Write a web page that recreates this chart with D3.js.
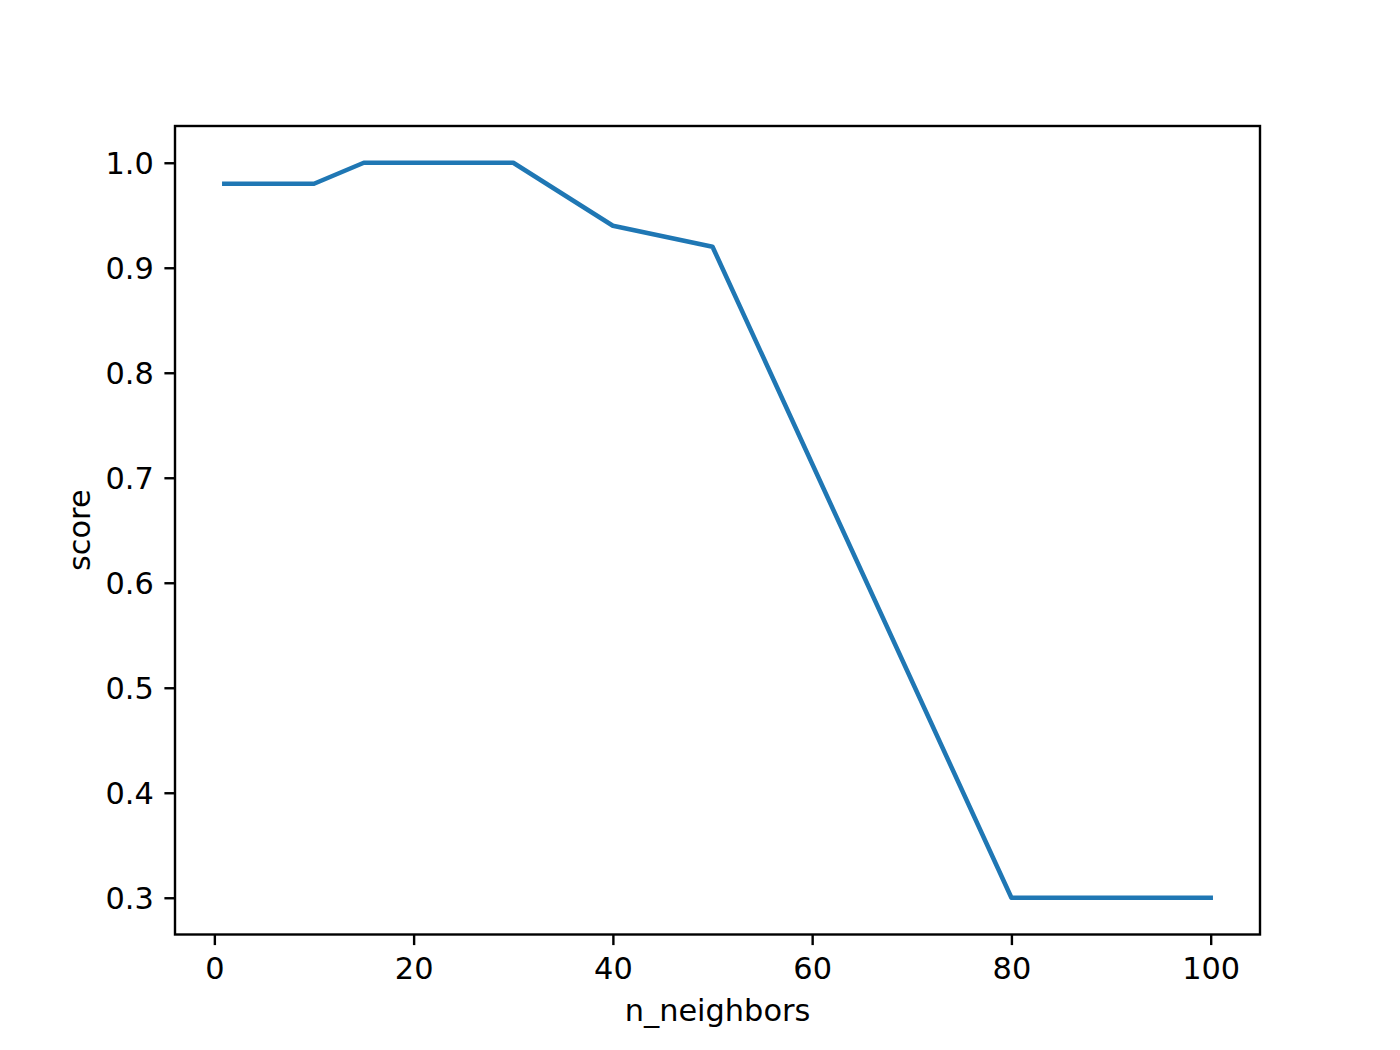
<!DOCTYPE html>
<html><head><meta charset="utf-8">
<script src="https://cdn.jsdelivr.net/npm/d3@7"></script>
<style>body{margin:0;background:#fff}svg text{font-family:"DejaVu Sans";fill:#000}</style>
</head><body>
<svg id="c" width="1400" height="1050"></svg>
<script>
const nNeighbors = [1, 10, 15, 30, 40, 50, 80, 100];
const scores = [0.98, 0.98, 1.0, 1.0, 0.94, 0.92, 0.30, 0.30];
const xTicks = [0, 20, 40, 60, 80, 100];
const yTicks = [0.3, 0.4, 0.5, 0.6, 0.7, 0.8, 0.9, 1.0];
const xLabel = "n_neighbors", yLabel = "score";

const L = 175, R = 1260, T = 126, B = 934.5;
const fs = 30.4, tickLen = 10.6, pad = 10.6;
const svg = d3.select("#c");
const xmin = d3.min(nNeighbors), xmax = d3.max(nNeighbors);
const ymin = d3.min(scores), ymax = d3.max(scores);
const xm = (xmax - xmin) * 0.05, ym = (ymax - ymin) * 0.05;
const x = d3.scaleLinear().domain([xmin - xm, xmax + xm]).range([L, R]);
const y = d3.scaleLinear().domain([ymin - ym, ymax + ym]).range([B, T]);

const data = nNeighbors.map((d, i) => [d, scores[i]]);
svg.append("path").datum(data)
  .attr("d", d3.line().x(d => x(d[0])).y(d => y(d[1])))
  .attr("fill", "none").attr("stroke", "#1f77b4").attr("stroke-width", 4.56)
  .attr("stroke-linecap", "square").attr("stroke-linejoin", "round");

const xAxis = svg.append("g").attr("transform", `translate(0,${B})`)
  .call(d3.axisBottom(x).tickValues(xTicks).tickSize(tickLen).tickPadding(pad).tickFormat(d3.format("d")));
const yAxis = svg.append("g").attr("transform", `translate(${L},0)`)
  .call(d3.axisLeft(y).tickValues(yTicks).tickSize(tickLen).tickPadding(pad).tickFormat(d3.format(".1f")));
[xAxis, yAxis].forEach(g => {
  g.select(".domain").remove();
  g.selectAll(".tick line").attr("stroke", "#000").attr("stroke-width", 2.4);
  g.selectAll(".tick text").attr("font-size", fs).attr("font-family", "DejaVu Sans").attr("fill", "#000");
});
xAxis.selectAll(".tick text").attr("dy", null).attr("y", tickLen + pad + fs * 0.76);
yAxis.selectAll(".tick text").attr("dy", null).attr("y", fs * 0.36);

svg.append("rect").attr("x", L).attr("y", T).attr("width", R - L).attr("height", B - T)
  .attr("fill", "none").attr("stroke", "#000").attr("stroke-width", 2.4);

svg.append("text").attr("x", (L + R) / 2).attr("y", 1021).attr("text-anchor", "middle")
  .attr("font-size", fs).text(xLabel);
svg.append("text").attr("transform", `translate(90,${(T + B) / 2}) rotate(-90)`)
  .attr("text-anchor", "middle").attr("font-size", fs).text(yLabel);
</script>
</body></html>
